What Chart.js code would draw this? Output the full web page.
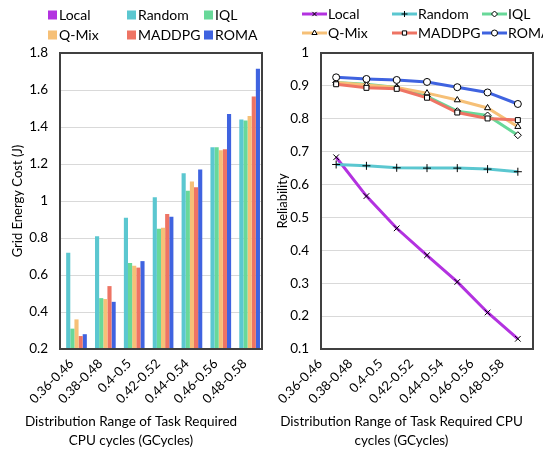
<!DOCTYPE html>
<html>
<head>
<meta charset="utf-8">
<script src="https://cdn.jsdelivr.net/npm/chart.js@4.4.1/dist/chart.umd.min.js"></script>
<style>
    body { margin: 0; background: #fff; overflow: hidden; }
    .panel { position: absolute; top: 0; height: 453px; }
    #left { left: 0; width: 270px; }
    #right { left: 270px; width: 273px; }
</style>
</head>
<body>
<div class="panel" id="left"><canvas id="energy" width="270" height="453"></canvas></div>
<div class="panel" id="right"><canvas id="reliability" width="273" height="453"></canvas></div>

<script>
    const categories = ["0.36-0.46", "0.38-0.48", "0.4-0.5", "0.42-0.52", "0.44-0.54", "0.46-0.56", "0.48-0.58"]
    const methods = ["Local", "Random", "IQL", "Q-Mix", "MADDPG", "ROMA"]
    const colors = ["#b332e0", "#5bc7d0", "#68d899", "#f6c077", "#ee7464", "#3f63e0"]
    const markers = ["crossRot", "cross", "rectRot", "triangle", "rect", "circle"]

    // grid energy cost (J)
    const energyLocal  = [0.205, 0.205, 0.205, 0.205, 0.205, 0.205, 0.205]
    const energyRandom = [0.72, 0.81, 0.91, 1.02, 1.15, 1.29, 1.44]
    const energyIQL    = [0.31, 0.475, 0.665, 0.85, 1.055, 1.29, 1.435]
    const energyQMix   = [0.36, 0.47, 0.65, 0.855, 1.105, 1.275, 1.46]
    const energyMADDPG = [0.27, 0.54, 0.64, 0.93, 1.075, 1.28, 1.565]
    const energyROMA   = [0.28, 0.455, 0.675, 0.915, 1.17, 1.47, 1.715]
    const energyTicks  = [0.2, 1.8, 0.2]   // min, max, step

    // reliability
    const relLocal  = [0.683, 0.565, 0.467, 0.385, 0.304, 0.211, 0.131]
    const relRandom = [0.661, 0.657, 0.651, 0.650, 0.650, 0.647, 0.639]
    const relIQL    = [0.910, 0.905, 0.895, 0.868, 0.823, 0.810, 0.750]
    const relQMix   = [0.910, 0.903, 0.895, 0.878, 0.857, 0.833, 0.776]
    const relMADDPG = [0.905, 0.894, 0.891, 0.864, 0.819, 0.801, 0.796]
    const relROMA   = [0.926, 0.921, 0.918, 0.912, 0.896, 0.880, 0.845]
    const relTicks  = [0.1, 1, 0.1]

    const energySeries = [energyLocal, energyRandom, energyIQL, energyQMix, energyMADDPG, energyROMA]
    const relSeries = [relLocal, relRandom, relIQL, relQMix, relMADDPG, relROMA]

    const FONT = "Lato, 'Liberation Sans', sans-serif"
    const tickFmt = (v) => String(+v.toFixed(2))

    const plotBox = {
        id: "plotBox",
        afterDatasetsDraw(chart) {
            const a = chart.chartArea
            const ctx = chart.ctx
            ctx.save()
            ctx.strokeStyle = "#404040"
            ctx.lineWidth = 2
            ctx.strokeRect(a.left, a.top, a.right - a.left, a.bottom - a.top)
            ctx.restore()
        }
    }

    const gridLegend = {
        id: "gridLegend",
        afterDraw(chart, args, opts) {
            const ctx = chart.ctx
            ctx.save()
            ctx.font = "14px " + FONT
            ctx.textBaseline = "middle"
            chart.data.datasets.forEach((ds, i) => {
                const x = opts.cols[i % 3]
                const y = opts.rows[Math.floor(i / 3)]
                if (opts.kind === "box") {
                    ctx.fillStyle = ds.backgroundColor
                    ctx.fillRect(x, y - 4.5, 9, 9)
                    ctx.fillStyle = "#000"
                    ctx.fillText(ds.label, x + 11, y)
                } else {
                    const len = opts.lineLen
                    ctx.strokeStyle = ds.borderColor
                    ctx.lineWidth = 3
                    ctx.beginPath()
                    ctx.moveTo(x, y)
                    ctx.lineTo(x + len, y)
                    ctx.stroke()
                    ctx.fillStyle = "#fff"
                    ctx.strokeStyle = "#000"
                    ctx.lineWidth = 1
                    Chart.helpers.drawPoint(ctx, {pointStyle: ds.pointStyle, radius: 3, borderWidth: 1, rotation: 0}, x + len / 2, y)
                    ctx.fillStyle = "#000"
                    ctx.fillText(ds.label, x + len + 1, y)
                }
            })
            ctx.restore()
        }
    }

    const xTitle = (lines) => ({
        display: true,
        position: "bottom",
        text: lines,
        color: "#000",
        font: {family: FONT, size: 13.5, weight: "normal", lineHeight: "19px"},
        padding: {top: 3, bottom: 3}
    })

    const yAxis = (t, title, width, titlePad) => ({
        min: t[0], max: t[1],
        afterFit: (s) => { s.width = width },
        ticks: {stepSize: t[2], callback: tickFmt, color: "#000", font: {family: FONT, size: 13.5}, padding: 12},
        grid: {color: "#d9d9d9", drawTicks: false},
        border: {display: false},
        title: {display: true, text: title, color: "#000", font: {family: FONT, size: 13}, padding: {top: titlePad, bottom: 0}}
    })

    const xAxis = (labelOffset) => ({
        afterFit: (s) => { s.height = 60 },
        grid: {display: false, drawTicks: false},
        border: {display: false},
        ticks: {color: "#000", font: {family: FONT, size: 13}, maxRotation: 45, minRotation: 45, padding: 7, labelOffset: labelOffset, autoSkip: false}
    })

    new Chart(document.getElementById("energy"), {
        type: "bar",
        data: {
            labels: categories,
            datasets: methods.map((m, i) => ({
                label: m,
                data: energySeries[i],
                backgroundColor: colors[i],
                categoryPercentage: 0.86,
                barPercentage: 1.0
            }))
        },
        options: {
            responsive: false,
            animation: false,
            layout: {padding: {top: 53, right: 8, left: 0, bottom: 0}},
            plugins: {
                legend: {display: false},
                tooltip: {enabled: false},
                title: xTitle(["Distribution Range of Task Required", "CPU cycles (GCycles)"]),
                gridLegend: {kind: "box", cols: [48, 127, 204], rows: [15, 35]}
            },
            scales: {
                x: xAxis(-3),
                y: yAxis(energyTicks, "Grid Energy Cost (J)", 60, 10)
            }
        },
        plugins: [plotBox, gridLegend]
    })

    new Chart(document.getElementById("reliability"), {
        type: "line",
        data: {
            labels: categories,
            datasets: methods.map((m, i) => ({
                label: m,
                data: relSeries[i],
                borderColor: colors[i],
                backgroundColor: "#fff",
                borderWidth: 3,
                pointStyle: markers[i],
                pointRadius: i < 2 ? 4 : 3.5,
                pointBorderColor: "#000",
                pointBackgroundColor: "#fff",
                pointBorderWidth: 1,
                tension: 0,
                fill: false,
                order: 6 - i
            }))
        },
        options: {
            responsive: false,
            animation: false,
            layout: {padding: {top: 53, right: 10, left: 0, bottom: 0}},
            plugins: {
                legend: {display: false},
                tooltip: {enabled: false},
                title: xTitle(["Distribution Range of Task Required CPU", "cycles (GCycles)"]),
                gridLegend: {kind: "line", cols: [32, 122, 212], rows: [14, 33], lineLen: 25}
            },
            scales: {
                x: Object.assign(xAxis(-16), {offset: true}),
                y: yAxis(relTicks, "Reliability", 51, 5)
            }
        },
        plugins: [plotBox, gridLegend]
    })
</script>
</body>
</html>
